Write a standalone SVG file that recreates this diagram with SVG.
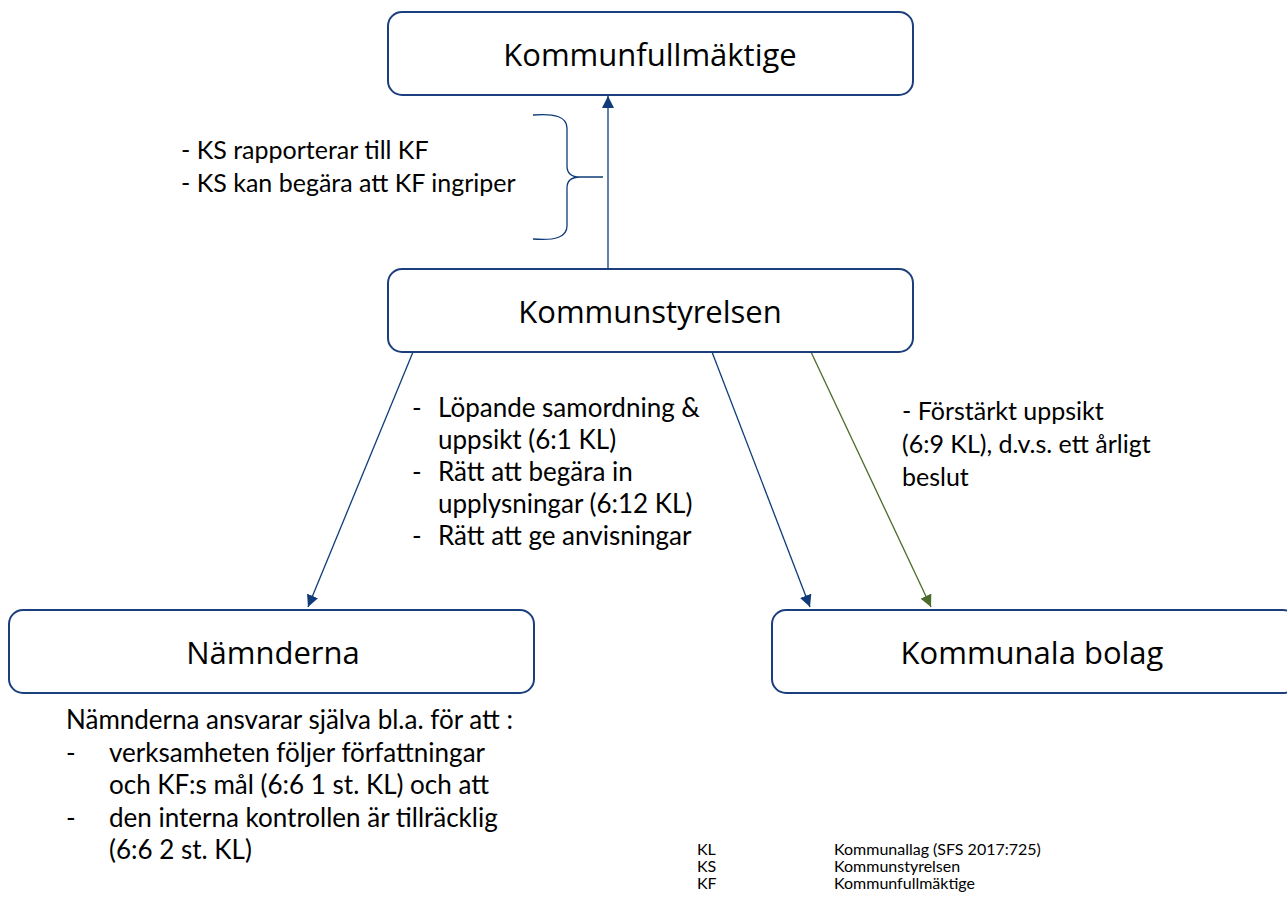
<svg xmlns="http://www.w3.org/2000/svg" width="1287" height="906" viewBox="0 0 1287 906">
<defs>
<style>
.box{fill:#ffffff;stroke:#1b3f7d;stroke-width:2}
.lbl{font-family:"Open Sans","DejaVu Sans",sans-serif;font-size:31px;fill:#000;text-anchor:middle}
.txt{font-family:Lato,"Open Sans",sans-serif;font-size:26px;fill:#000}
.sm{font-size:25px}
.leg{font-family:Lato,"Open Sans",sans-serif;font-size:16px;fill:#000}
.cb{fill:none;stroke:#0f3c78;stroke-width:1.3}
.cg{fill:none;stroke:#4b6b2b;stroke-width:1.3}
</style>
<marker id="ab" viewBox="0 0 12 12" refX="12" refY="6" markerWidth="12" markerHeight="12" markerUnits="userSpaceOnUse" orient="auto"><path d="M0,0 L12,6 L0,12 Z" fill="#0f3c78"/></marker>
<marker id="ag" viewBox="0 0 12 12" refX="12" refY="6" markerWidth="12" markerHeight="12" markerUnits="userSpaceOnUse" orient="auto"><path d="M0,0 L12,6 L0,12 Z" fill="#4b6b2b"/></marker>
</defs>
<rect width="1287" height="906" fill="#ffffff"/>
<g id="connectors">
<line class="cb" x1="608" y1="269" x2="608" y2="96" marker-end="url(#ab)"/>
<line class="cb" x1="413" y1="352" x2="308" y2="607" marker-end="url(#ab)"/>
<line class="cb" x1="712" y1="352" x2="810" y2="607" marker-end="url(#ab)"/>
<line class="cg" x1="811" y1="352" x2="931" y2="607" marker-end="url(#ag)"/>
<path class="cb" d="M533,115 Q567,112 567,128 L567,166 Q567,177 580,177 Q567,177 567,188 L567,226 Q567,242 533,239 M580,177 L603,177"/>
</g>
<g id="kf">
<rect class="box" x="388" y="12" width="525" height="83" rx="14"/>
<text class="lbl" x="650" y="66">Kommunfullmäktige</text>
</g>
<g id="ks">
<rect class="box" x="388" y="269" width="525" height="83" rx="14"/>
<text class="lbl" x="650" y="323">Kommunstyrelsen</text>
</g>
<g id="namnderna">
<rect class="box" x="9" y="610" width="525" height="83" rx="14"/>
<text class="lbl" x="273" y="664">Nämnderna</text>
</g>
<g id="bolag">
<rect class="box" x="772" y="610" width="525" height="83" rx="14"/>
<text class="lbl" x="1032" y="664">Kommunala bolag</text>
</g>
<g id="brace-text">
<text class="txt sm" x="181" y="159">- KS rapporterar till KF</text>
<text class="txt sm" x="181" y="192">- KS kan begära att KF ingriper</text>
</g>
<g id="ks-text">
<text class="txt" x="412" y="417">-</text><text class="txt" x="438" y="417">Löpande samordning &amp;</text>
<text class="txt" x="438" y="449">uppsikt (6:1 KL)</text>
<text class="txt" x="412" y="481">-</text><text class="txt" x="438" y="481">Rätt att begära in</text>
<text class="txt" x="438" y="513">upplysningar (6:12 KL)</text>
<text class="txt" x="412" y="545">-</text><text class="txt" x="438" y="545">Rätt att ge anvisningar</text>
</g>
<g id="bolag-text">
<text class="txt sm" x="902" y="420">- Förstärkt uppsikt</text>
<text class="txt sm" x="902" y="453">(6:9 KL), d.v.s. ett årligt</text>
<text class="txt sm" x="902" y="486">beslut</text>
</g>
<g id="namnd-text">
<text class="txt" x="66" y="729">Nämnderna ansvarar själva bl.a. för att :</text>
<text class="txt" x="66" y="762">-</text><text class="txt" x="109" y="762">verksamheten följer författningar</text>
<text class="txt" x="109" y="794">och KF:s mål (6:6 1 st. KL) och att</text>
<text class="txt" x="66" y="827">-</text><text class="txt" x="109" y="827">den interna kontrollen är tillräcklig</text>
<text class="txt" x="109" y="859">(6:6 2 st. KL)</text>
</g>
<g id="legend">
<text class="leg" x="697" y="855">KL</text><text class="leg" x="834" y="855">Kommunallag (SFS 2017:725)</text>
<text class="leg" x="697" y="872">KS</text><text class="leg" x="834" y="872">Kommunstyrelsen</text>
<text class="leg" x="697" y="889">KF</text><text class="leg" x="834" y="889">Kommunfullmäktige</text>
</g>
</svg>
